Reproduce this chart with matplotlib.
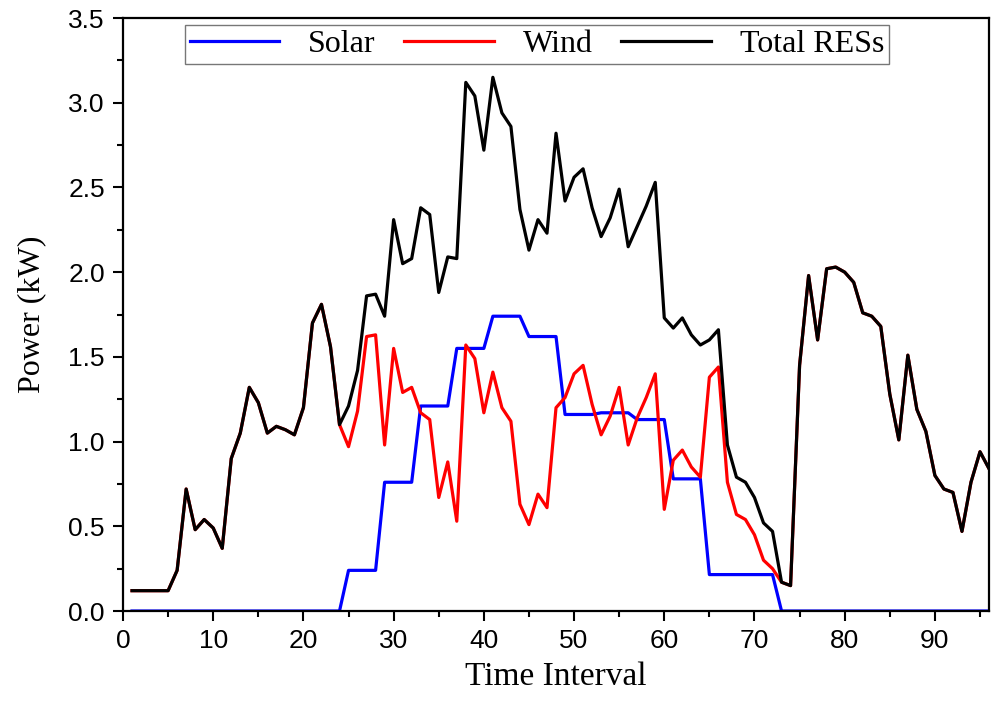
import matplotlib
matplotlib.use("Agg")
import matplotlib.pyplot as plt
from matplotlib.ticker import MultipleLocator

# time intervals 1..96 (15-min steps over a day)
intervals = list(range(1, 97))

solar = [0.0] * 24 + [
    0.24, 0.24, 0.24, 0.24,
    0.76, 0.76, 0.76, 0.76,
    1.21, 1.21, 1.21, 1.21,
    1.55, 1.55, 1.55, 1.55,
    1.74, 1.74, 1.74, 1.74,
    1.62, 1.62, 1.62, 1.62,
    1.16, 1.16, 1.16, 1.16,
    1.17, 1.17, 1.17, 1.17,
    1.13, 1.13, 1.13, 1.13,
    0.78, 0.78, 0.78, 0.78,
    0.215, 0.215, 0.215, 0.215, 0.215, 0.215, 0.215, 0.215,
] + [0.0] * 24

wind = [
    0.12, 0.12, 0.12, 0.12, 0.12, 0.24, 0.72, 0.48, 0.54, 0.49,
    0.37, 0.90, 1.05, 1.32, 1.23, 1.05, 1.09, 1.07, 1.04, 1.20,
    1.70, 1.81, 1.56, 1.10, 0.97, 1.18, 1.62, 1.63, 0.98, 1.55,
    1.29, 1.32, 1.17, 1.13, 0.67, 0.88, 0.53, 1.57, 1.49, 1.17,
    1.41, 1.20, 1.12, 0.63, 0.51, 0.69, 0.61, 1.20, 1.26, 1.40,
    1.45, 1.22, 1.04, 1.15, 1.32, 0.98, 1.14, 1.26, 1.40, 0.60,
    0.89, 0.95, 0.85, 0.79, 1.38, 1.44, 0.76, 0.57, 0.54, 0.45,
    0.30, 0.25, 0.17, 0.15, 1.45, 1.98, 1.60, 2.02, 2.03, 2.00,
    1.94, 1.76, 1.74, 1.68, 1.28, 1.01, 1.51, 1.19, 1.06, 0.80,
    0.72, 0.70, 0.47, 0.76, 0.94, 0.84,
]

total = [
    0.12, 0.12, 0.12, 0.12, 0.12, 0.24, 0.72, 0.48, 0.54, 0.49,
    0.37, 0.90, 1.05, 1.32, 1.23, 1.05, 1.09, 1.07, 1.04, 1.20,
    1.70, 1.81, 1.56, 1.10, 1.21, 1.42, 1.86, 1.87, 1.74, 2.31,
    2.05, 2.08, 2.38, 2.34, 1.88, 2.09, 2.08, 3.12, 3.04, 2.72,
    3.15, 2.94, 2.86, 2.37, 2.13, 2.31, 2.23, 2.82, 2.42, 2.56,
    2.61, 2.38, 2.21, 2.32, 2.49, 2.15, 2.27, 2.39, 2.53, 1.73,
    1.67, 1.73, 1.63, 1.57, 1.60, 1.66, 0.98, 0.79, 0.76, 0.67,
    0.52, 0.47, 0.17, 0.15, 1.45, 1.98, 1.60, 2.02, 2.03, 2.00,
    1.94, 1.76, 1.74, 1.68, 1.28, 1.01, 1.51, 1.19, 1.06, 0.80,
    0.72, 0.70, 0.47, 0.76, 0.94, 0.84,
]

plt.rcParams["font.family"] = ["Liberation Sans", "DejaVu Sans"]
serif = ["Liberation Serif", "DejaVu Serif"]

fig = plt.figure(figsize=(9.96, 7.09), dpi=100)
ax = fig.add_axes([0.1235, 0.1382, 0.8695, 0.8364])

ax.plot(intervals, solar, color="#0000ff", lw=2.3, label="Solar")
ax.plot(intervals, wind, color="#ff0000", lw=2.3, label="Wind")
ax.plot(intervals, total, color="black", lw=2.3, label="Total RESs")

ax.set_xlim(0, 96)
ax.set_ylim(0, 3.5)
ax.xaxis.set_major_locator(MultipleLocator(10))
ax.xaxis.set_minor_locator(MultipleLocator(5))
ax.yaxis.set_major_locator(MultipleLocator(0.5))
ax.yaxis.set_minor_locator(MultipleLocator(0.25))
ax.yaxis.set_major_formatter(matplotlib.ticker.FormatStrFormatter("%.1f"))

ax.tick_params(which="major", direction="out", length=7, width=1.5,
               labelsize=19, pad=6)
ax.tick_params(which="minor", direction="out", length=4, width=1.5)
for s in ax.spines.values():
    s.set_linewidth(1.6)

ax.set_xlabel("Time Interval", family=serif, fontsize=24, labelpad=6)
ax.set_ylabel("Power (kW)", family=serif, fontsize=23, labelpad=16)

leg = ax.legend(loc="upper center", bbox_to_anchor=(0.478, 0.988), ncol=3,
                prop={"family": serif, "size": 23}, frameon=True,
                fancybox=False, edgecolor="#555555", borderaxespad=0,
                handlelength=2.8, columnspacing=0.9, handletextpad=0.9,
                borderpad=0.15)
leg.get_frame().set_linewidth(1.0)

fig.savefig("out.png", dpi=100)
